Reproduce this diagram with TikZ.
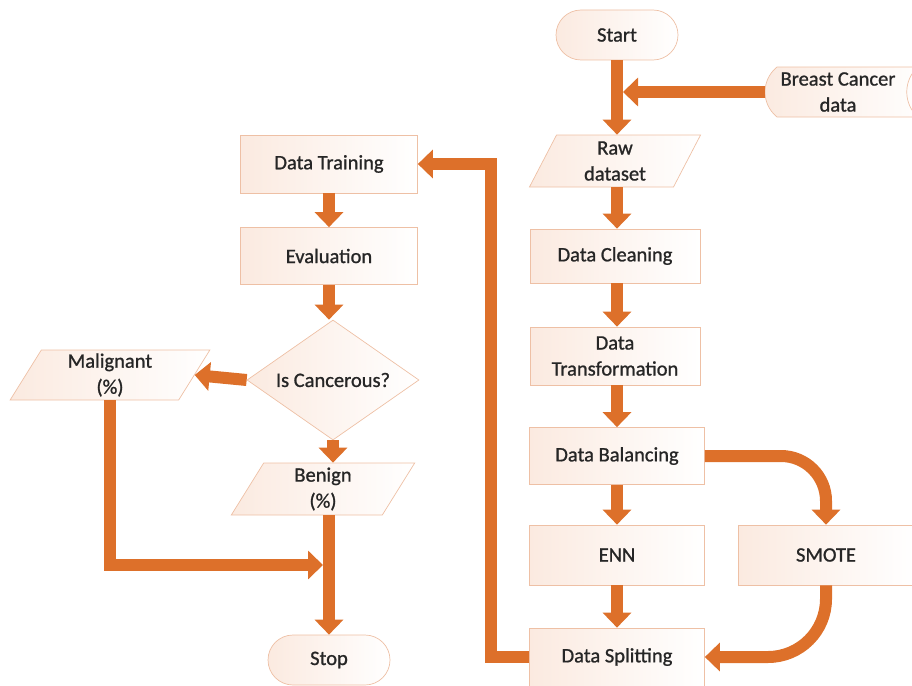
\documentclass[tikz,border=0pt]{standalone}
\usepackage{fontspec}
\setmainfont{Carlito}
\newfontface\medf{Carlito}[FakeBold=1.0]
\usetikzlibrary{shapes.geometric,arrows.meta}
\definecolor{arr}{RGB}{221,112,42}
\definecolor{edgec}{RGB}{238,192,165}
\definecolor{peach}{RGB}{251,234,224}
\begin{document}
\begin{tikzpicture}[x=1pt,y=-1pt,
  txt/.style={font=\medf\fontsize{20.5}{26}\selectfont, text=black!85, align=center, inner sep=0pt},
  box/.style={txt, draw=edgec, line width=0.7pt, left color=peach, right color=white},
  rect/.style={box, rectangle, minimum width=175pt, minimum height=57pt},
  term/.style={box, rectangle, rounded corners=25pt, minimum width=122pt, minimum height=50pt},
  para/.style={box, trapezium, trapezium left angle=70, trapezium right angle=110, trapezium stretches=true},
  flow/.style={draw=arr, line width=12pt, -{Triangle[width=28pt,length=15pt]}}]
\useasboundingbox (0,0) rectangle (912,685);
% stored data shape
\path[draw=edgec, line width=0.7pt, left color=peach, right color=white]
  (777,67) -- (930,67) -- (930,117) -- (777,117) .. controls (761,104) and (761,80) .. cycle;
\draw[edgec, line width=0.7pt] (918,67) .. controls (903,80) and (903,104) .. (918,117);
\node[txt, minimum width=146pt, minimum height=50pt] (bcd) at (838,92) {Breast Cancer\\data};
% right column
\node[term] (start) at (617,35) {Start};
\node[para, minimum width=172pt, minimum height=52pt] (raw) at (615,161) {Raw\\dataset};
\node[rect, minimum width=170pt, minimum height=54pt] (clean) at (615,256) {Data Cleaning};
\node[rect, minimum width=170pt, minimum height=58pt] (trans) at (615,356) {Data\\Transformation};
\node[rect] (bal) at (617,456) {Data Balancing};
\node[rect, minimum height=60pt] (enn) at (617,555) {ENN};
\node[rect, minimum height=60pt] (smote) at (826,555) {SMOTE};
\node[rect, minimum height=58pt] (split) at (617,657) {Data Splitting};
% left column
\node[rect, minimum width=177pt, minimum height=58pt] (train) at (329,164) {Data Training};
\node[rect, minimum width=177pt] (eval) at (329,256) {Evaluation};
\node[box, diamond, aspect=1.43, minimum width=172pt, minimum height=120pt] (dia) at (333,380) {Is Cancerous?};
\node[para, trapezium left angle=66, trapezium right angle=114, minimum width=200pt, minimum height=50pt] (mal) at (110,375) {Malignant\\(\%)};
\node[para, minimum width=185pt, minimum height=52pt] (ben) at (323,489) {Benign\\(\%)};
\node[term] (stop) at (329,660) {Stop};
\coordinate (j1) at (623,92);
\coordinate (j2) at (323,565);
% connectors
\draw[flow] (start.south) -- (start.south |- raw.north);
\draw[flow] (bcd.west) -- (j1);
\draw[flow] (start.south |- raw.south) -- (start.south |- clean.north);
\draw[flow] (start.south |- clean.south) -- (start.south |- trans.north);
\draw[flow] (start.south |- trans.south) -- (start.south |- bal.north);
\draw[flow] (bal.south) -- (enn.north);
\draw[flow] (enn.south) -- (split.north);
\draw[flow, rounded corners=45pt] (bal.east) -| (smote.north);
\draw[flow, rounded corners=58pt] (smote.south) |- (split.east);
\draw[flow] (split.west) -- ++(-38,0) |- (train.east);
\draw[flow] (train.south) -- (eval.north);
\draw[flow] (eval.south) -- (eval.south |- dia.north);
\draw[flow] (dia.west) -- (mal.east);
\draw[flow] (dia.south) -- (dia.south |- ben.north);
\draw[flow] (stop.north |- ben.south) -- (stop.north);
\draw[flow] (mal.south) -- (mal.south |- j2) -- (j2);
\end{tikzpicture}
\end{document}
